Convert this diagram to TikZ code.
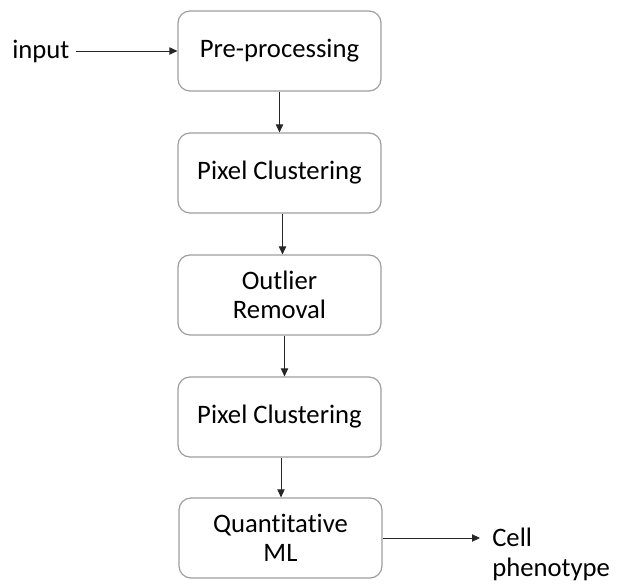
\documentclass[tikz,border=0pt]{standalone}
\usepackage{fontspec}
\setmainfont[Ligatures=NoCommon]{Carlito}
\usetikzlibrary{arrows.meta}
\begin{document}
\begin{tikzpicture}[x=0.75pt,y=-0.75pt,
  stage/.style={draw=black!38,line width=0.9pt,rounded corners=9pt,minimum width=203*0.75pt,minimum height=80*0.75pt,align=center,font=\fontsize{20}{22}\selectfont,inner sep=0pt},
  lbl/.style={font=\fontsize{20}{22.5}\selectfont,inner sep=0pt,align=left},
  flow/.style={draw=black!85,line width=0.6pt,-{Triangle[length=6pt,width=5.5pt]}}]
\useasboundingbox (0,0) rectangle (624,584);
\node[stage] (b1) at (279.5,51) {Pre-processing};
\node[stage] (b2) at (279.5,173) {Pixel Clustering};
\node[stage] (b3) at (279.5,295) {Outlier\\Removal};
\node[stage] (b4) at (279.5,417) {Pixel Clustering};
\node[stage] (b5) at (280.5,538) {Quantitative\\ML};
\node[lbl,anchor=west] (in) at (12,51) {input};
\node[lbl,anchor=base west] (out) at (492,576) {Cell\\phenotype};
\draw[flow] ([xshift=6*0.75pt]in.east) -- (b1.west);
\draw[flow] (b1.south) -- (b2.north);
\draw[flow] ([xshift=3*0.75pt]b2.south) -- ([xshift=3*0.75pt]b3.north);
\draw[flow] ([xshift=5*0.75pt]b3.south) -- ([xshift=5*0.75pt]b4.north);
\draw[flow] ([xshift=1.5*0.75pt]b4.south) -- ([xshift=0.5*0.75pt]b5.north);
\coordinate (oe) at (480,538);
\draw[flow] (b5.east) -- (oe);
\end{tikzpicture}
\end{document}
